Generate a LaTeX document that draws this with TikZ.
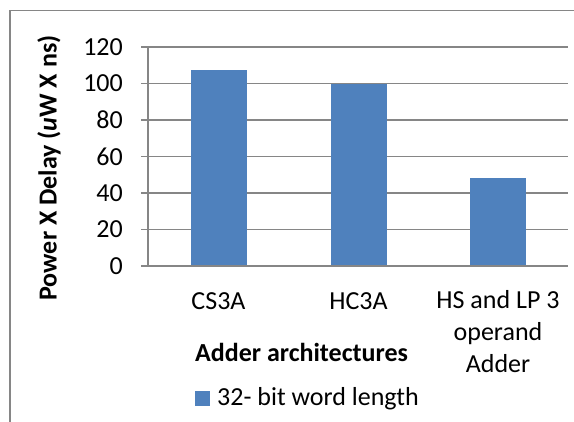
\documentclass[tikz,border=0pt]{standalone}
\usepackage{fontspec}
\setmainfont{Carlito}
\definecolor{barblue}{HTML}{4F81BD}
\definecolor{gridgray}{HTML}{868686}
\begin{document}
\begin{tikzpicture}[x=1pt,y=-1pt,
  txt/.style={inner sep=0pt, font=\fontsize{26}{32}\selectfont},
  boldtxt/.style={inner sep=0pt, font=\fontsize{26}{32}\selectfont\bfseries},
  gridline/.style={draw=gridgray, line width=1.5pt},
  chartframe/.style={draw=gridgray, line width=1.5pt},
  bar/.style={fill=barblue, draw=none}]
  \useasboundingbox (0,0) rectangle (574,422);
  % chart area border (left and top edges)
  \draw[chartframe] (10,422) -- (10,10.7) -- (574,10.7);
  % horizontal gridlines with their tick marks, and value labels
  \foreach \v in {0,20,...,120} {
    \pgfmathsetmacro{\yy}{266-1.825*\v}
    \draw[gridline] (141,\yy) -- (568,\yy);
    \node[txt, anchor=east] (tick\v) at (123,\yy) {\v};
  }
  % value axis
  \draw[gridline] (148,47) -- (148,266);
  % bars
  \fill[bar] (190.5,266) rectangle (246.5,{266-1.825*107.4});
  \fill[bar] (330.5,266) rectangle (386.5,{266-1.825*99.6});
  \fill[bar] (470,266) rectangle (526,{266-1.825*48.0});
  \draw[gridline] (141,266) -- (568,266);
  % category labels
  \node[txt, anchor=base] (catA) at (218.5,310) {CS3A};
  \node[txt, anchor=base] (catB) at (358.5,310) {HC3A};
  \node[txt, anchor=base] (catC1) at (498,309) {HS and LP 3};
  \node[txt, anchor=base] (catC2) at (498,341) {operand};
  \node[txt, anchor=base] (catC3) at (498,373) {Adder};
  % axis titles
  \node[boldtxt, anchor=base west] (xtitle) at (195,361.5) {Adder architectures};
  \node[boldtxt, anchor=base, rotate=90] (ytitle) at (56.5,168) {Power X Delay ({\itshape u}W X ns)};
  % legend
  \fill[bar] (195,391) rectangle (210,406);
  \node[txt, anchor=base west] (legtext) at (217,406) {32- bit word length};
\end{tikzpicture}
\end{document}
